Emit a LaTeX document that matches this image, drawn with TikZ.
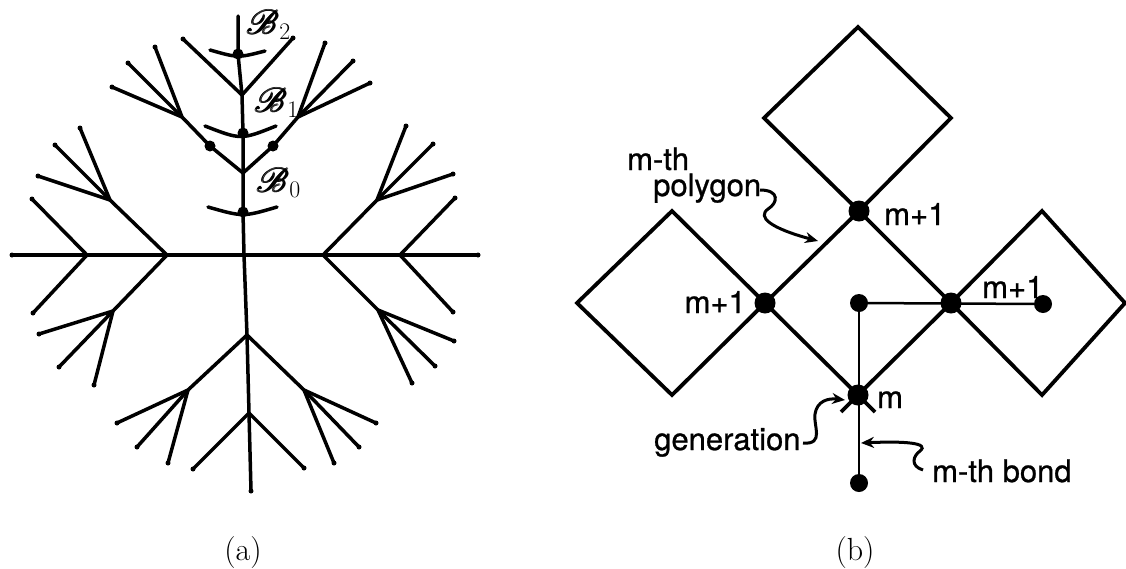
\documentclass[tikz,border=0pt]{standalone}
\usepackage{fix-cm}
\usepackage{amsmath}
\usepackage{mathrsfs}
\DeclareFontFamily{U}{rsfs}{\skewchar\font127 }
\DeclareFontShape{U}{rsfs}{m}{n}{<-6>rsfs5<6-8.5>rsfs7<8.5->rsfs10}{}
\usepackage{fontspec}
\newfontfamily\hv[FakeBold=0.8]{TeX Gyre Heros}
\usetikzlibrary{arrows.meta}

\begin{document}
\begin{tikzpicture}[x=1pt,y=-1pt,
  tree/.style={line width=3.5pt, line cap=round, line join=round},
  leaf/.style={circle, fill, inner sep=0pt, minimum size=5pt},
  bdot/.style={circle, fill, inner sep=0pt, minimum size=11pt},
  poly/.style={line width=3.8pt, line join=miter},
  bond/.style={line width=2.5pt},
  vbig/.style={circle, fill, inner sep=0pt, minimum size=21pt},
  vsmall/.style={circle, fill, inner sep=0pt, minimum size=18pt},
  lab/.style={font=\hv\fontsize{31}{35}\selectfont, inner sep=0pt},
  blab/.style={font=\fontsize{34}{38}\selectfont, inner sep=0pt},
  captext/.style={font=\fontsize{32}{36}\selectfont, inner sep=0pt},
  squig/.style={line width=3pt, -{Stealth[length=13pt,width=11pt]}}]
\useasboundingbox (0,0) rectangle (1126,568);

% ---------------- (a) branching tree ----------------
% horizontal axis
\coordinate (c) at (244,255);
\node[leaf] (hW) at (12,255) {};
\node[leaf] (hE) at (478,255) {};
\coordinate (hl1) at (167,255);
\coordinate (hl2) at (87,255);
\coordinate (hr1) at (323,255);
\coordinate (hr2) at (400,255);
\draw[tree] (hW.center) -- (hl2) -- (hl1) -- (c) -- (hr1) -- (hr2) -- (hE.center);

% upper trunk with the three marked generations
\node[bdot] (b0) at (243,212) {};
\coordinate (t1) at (243,173);
\node[bdot] (b1) at (243,133) {};
\coordinate (t2) at (242,95);
\node[bdot] (b2) at (238,54) {};
\coordinate (top) at (238,16);
\draw[tree] (c) -- (b0.center) -- (t1) -- (b1.center) -- (t2) -- (b2.center) -- (top);

% first-generation side branches
\node[bdot] (sl) at (210,146) {};
\coordinate (tl) at (182,117);
\node[bdot] (sr) at (273,146) {};
\coordinate (tr) at (298,117);
\draw[tree] (t1) -- (sl.center) -- (tl);
\draw[tree] (t1) -- (sr.center) -- (tr);

% other junctions
\coordinate (ul) at (110,200);
\coordinate (ur) at (377,200);
\coordinate (lL) at (113,311);
\coordinate (lR) at (378,310);
\coordinate (bj1) at (247,335);
\coordinate (bl) at (188,390);
\coordinate (br) at (304,390);
\coordinate (bj2) at (249,413);
\draw[tree] (hl1) -- (ul);
\draw[tree] (hr1) -- (ur);
\draw[tree] (hl1) -- (lL);
\draw[tree] (hr1) -- (lR);
\draw[tree] (c) -- (bj1) -- (bj2);
\draw[tree] (bj1) -- (bl);
\draw[tree] (bj1) -- (br);

% leaves
\foreach \j/\x/\y [count=\i] in {
  tl/112/87, tl/128/63, tl/155/47,
  tr/370/83, tr/353/61, tr/325/43,
  t2/183/39, t2/293/38,
  ul/38/176, ul/55/145, ul/80/128,
  hl2/32/199, hl2/33/313,
  ur/453/174, ur/433/144, ur/406/126,
  hr2/455/198, hr2/453/312,
  lL/39/334, lL/59/367, lL/94/385,
  lR/454/341, lR/435/366, lR/412/383,
  bl/117/423, bl/137/447, bl/168/463,
  br/376/423, br/359/447, br/334/463,
  bj2/193/469, bj2/304/468, bj2/251/491}{
  \node[leaf] (lf\i) at (\x,\y) {};
  \draw[tree] (\j) -- (lf\i.center);
}

% generation arcs
\coordinate (a0w) at (208,207); \coordinate (a0e) at (277,207);
\coordinate (a1w) at (205,126); \coordinate (a1e) at (276,126);
\coordinate (a2w) at (210,50);  \coordinate (a2e) at (265,51);
\draw[tree] (a0w) .. controls (243,217) .. (a0e);
\draw[tree] (a1w) .. controls (241,140) .. (a1e);
\draw[tree] (a2w) .. controls (238,58) .. (a2e);

\node[blab, anchor=base west] (lB0) at (257,192) {$\pmb{\mathscr{B}}_0$};
\node[blab, anchor=base west] (lB1) at (255,112) {$\pmb{\mathscr{B}}_1$};
\node[blab, anchor=base west] (lB2) at (247,34) {$\pmb{\mathscr{B}}_2$};

\node[captext, anchor=base] (capA) at (243,560) {(a)};

% ---------------- (b) cactus of polygons ----------------
\node[vbig] (p1) at (859,211) {};
\node[vbig] (pl) at (765,303) {};
\node[vbig] (pr) at (951,303) {};
\node[vbig] (pm) at (858,395) {};

\coordinate (dT) at (858,27);
\coordinate (dTl) at (764,118);
\coordinate (dTr) at (951,118);
\coordinate (dLl) at (577,303);
\coordinate (dLt) at (672,211);
\coordinate (dLb) at (672,395);
\coordinate (dRt) at (1042,211);
\coordinate (dRr) at (1125,303);
\coordinate (dRb) at (1042,395);
\coordinate (sA) at (841,412);
\coordinate (sB) at (875,412);

\draw[poly] (p1.center) -- (dTl) -- (dT) -- (dTr) -- cycle;
\draw[poly] (p1.center) -- (pl.center) -- (pm.center) -- (pr.center) -- cycle;
\draw[poly] (pl.center) -- (dLt) -- (dLl) -- (dLb) -- cycle;
\draw[poly] (pr.center) -- (dRt) -- (dRr) -- (dRb) -- cycle;
\draw[poly] (pm.center) -- (sA);
\draw[poly] (pm.center) -- (sB);

% the bond
\node[vsmall] (q1) at (859,303) {};
\node[vsmall] (q2) at (1043,304) {};
\node[vsmall] (q3) at (859,483) {};
\draw[bond] (q1) -- (q2);
\draw[bond] (q1) -- (q3);

% labels
\node[lab, anchor=base west] (labTop) at (884,225) {m+1};
\node[lab, anchor=base east] (labLeft) at (746,313) {m+1};
\node[lab, anchor=base west] (labRight) at (982,298) {m+1};
\node[lab, anchor=base west] (labM) at (877,408) {m};
\node[lab, anchor=base west] (labMth) at (627,170) {m-th};
\node[lab, anchor=base west] (labPoly) at (653,196) {polygon};
\node[lab, anchor=base west] (labGen) at (654,450) {generation};
\node[lab, anchor=base west] (labBond) at (932,482) {m-th bond};

% pointers
\coordinate (polyS) at (760,190);
\coordinate (polyE) at (818,241);
\coordinate (genS) at (803,443);
\coordinate (genE) at (845,400);
\coordinate (bondS) at (923,470);
\coordinate (bondE) at (861,443);
\draw[squig] (polyS) .. controls (780,190) and (778,203) .. (768,209)
  .. controls (757,217) and (770,228) .. (polyE);
\draw[squig] (genS) .. controls (825,445) and (813,425) .. (815,414)
  .. controls (817,401) and (828,398) .. (genE);
\draw[squig] (bondS) .. controls (910,466) and (913,456) .. (920,451)
  .. controls (930,443) and (905,441) .. (bondE);

\node[captext, anchor=base] (capB) at (855,560) {(b)};
\end{tikzpicture}
\end{document}
